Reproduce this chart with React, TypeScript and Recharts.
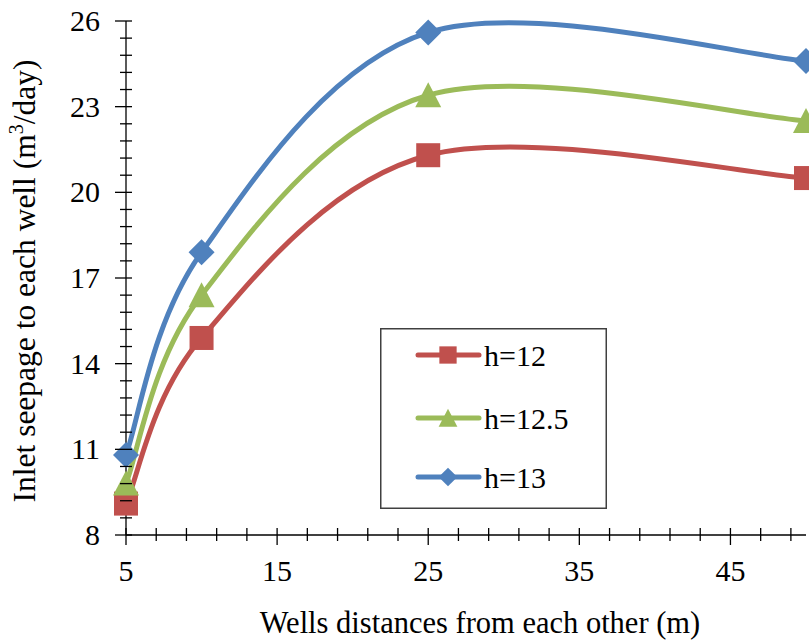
import React from "react";
import { LineChart, Line, XAxis, YAxis, Legend } from "recharts";

// well spacing (m)
const distances = [5, 10, 25, 50];
// inlet seepage per well (m3/day) for each head
const seepH12 = [9.1, 14.9, 21.3, 20.5];
const seepH125 = [9.8, 16.4, 23.4, 22.5];
const seepH13 = [10.8, 17.9, 25.6, 24.6];

const xTicks = [5, 7, 9, 11, 13, 15, 17, 19, 21, 23, 25, 27, 29, 31, 33, 35, 37, 39, 41, 43, 45, 47, 49];
const xLabels = [5, 15, 25, 35, 45];
const yTicks = [
  8, 8.6, 9.2, 9.8, 10.4, 11, 11.6, 12.2, 12.8, 13.4, 14, 14.6, 15.2, 15.8, 16.4, 17, 17.6, 18.2, 18.8, 19.4,
  20, 20.6, 21.2, 21.8, 22.4, 23, 23.6, 24.2, 24.8, 25.4, 26,
];
const yLabels = [8, 11, 14, 17, 20, 23, 26];

const series = [
  { key: "h12", name: "h=12", color: "#C0504D", shape: "square" },
  { key: "h125", name: "h=12.5", color: "#9BBB59", shape: "triangle" },
  { key: "h13", name: "h=13", color: "#4F81BD", shape: "diamond" },
];

const data = distances.map((d, i) => ({ x: d, h12: seepH12[i], h125: seepH125[i], h13: seepH13[i] }));

const FONT = "'Liberation Serif', 'Times New Roman', serif";

// excel-like smoothed line (cardinal bezier through every point)
const excelSmooth = (context: any) => {
  let pts: number[][] = [];
  return {
    areaStart() {},
    areaEnd() {},
    lineStart() {
      pts = [];
    },
    point(x: number, y: number) {
      pts.push([+x, +y]);
    },
    lineEnd() {
      const n = pts.length;
      if (!n) return;
      context.moveTo(pts[0][0], pts[0][1]);
      for (let i = 0; i < n - 1; i++) {
        const p0 = pts[Math.max(i - 1, 0)];
        const p1 = pts[i];
        const p2 = pts[i + 1];
        const p3 = pts[Math.min(i + 2, n - 1)];
        context.bezierCurveTo(
          p1[0] + (p2[0] - p0[0]) / 6,
          p1[1] + (p2[1] - p0[1]) / 6,
          p2[0] - (p3[0] - p1[0]) / 6,
          p2[1] - (p3[1] - p1[1]) / 6,
          p2[0],
          p2[1]
        );
      }
    },
  };
};

function Marker({ shape, cx, cy, color, s = 1 }: any) {
  if (shape === "square") {
    const h = 12 * s;
    return <rect x={cx - h} y={cy - h} width={2 * h} height={2 * h} fill={color} />;
  }
  if (shape === "triangle") {
    const pts = `${cx},${cy - 13 * s} ${cx - 13 * s},${cy + 12 * s} ${cx + 13 * s},${cy + 12 * s}`;
    return <polygon points={pts} fill={color} />;
  }
  const d = 13 * s;
  return <polygon points={`${cx},${cy - d} ${cx + d},${cy} ${cx},${cy + d} ${cx - d},${cy}`} fill={color} />;
}

const XTick = (props: any) => {
  const { x, y, payload } = props;
  const major = xLabels.includes(payload.value);
  return (
    <g>
      <line x1={x} x2={x} y1={y - 7} y2={y + (major ? 10 : 6)} stroke="#000" strokeWidth={1.3} />
      {major && (
        <text x={x} y={y + 46} textAnchor="middle" fontFamily={FONT} fontSize={30} fill="#000">
          {payload.value}
        </text>
      )}
    </g>
  );
};

const YTick = (props: any) => {
  const { x, y, payload } = props;
  const major = yLabels.some((v) => Math.abs(v - payload.value) < 1e-6);
  return (
    <g>
      <line x1={x - (major ? 11 : 6)} x2={x + 6} y1={y} y2={y} stroke="#000" strokeWidth={1.3} />
      {major && (
        <text x={x - 26} y={y + 10} textAnchor="end" fontFamily={FONT} fontSize={30} fill="#000">
          {Math.round(payload.value)}
        </text>
      )}
    </g>
  );
};

const LegendBox = () => (
  <svg width={227} height={181} style={{ display: "block" }}>
    <rect x={0.75} y={0.75} width={225.5} height={179.5} fill="#fff" stroke="#404040" strokeWidth={1.5} />
    {series.map((s, i) => {
      const ly = [27, 90, 149][i];
      return (
        <g key={s.key}>
          <line x1={38} x2={99} y1={ly} y2={ly} stroke={s.color} strokeWidth={5} strokeLinecap="round" />
          <Marker shape={s.shape} cx={68} cy={ly} color={s.color} s={0.72} />
          <text x={104} y={ly + 11} fontFamily={FONT} fontSize={30} fill="#000">
            {s.name}
          </text>
        </g>
      );
    })}
  </svg>
);

export default function App() {
  return (
    <div style={{ position: "absolute", left: 0, top: 0, width: 809, height: 641, background: "#fff" }}>
      <LineChart width={809} height={641} data={data} margin={{ top: 21, right: 3, bottom: 0, left: 0 }}>
        <XAxis
          dataKey="x"
          type="number"
          domain={[5, 50]}
          ticks={xTicks}
          interval={0}
          height={106}
          tickSize={0}
          tickMargin={0}
          tickLine={false}
          axisLine={{ stroke: "#000", strokeWidth: 1.3 }}
          tick={<XTick />}
          label={{
            content: () => (
              <text x={480} y={633} textAnchor="middle" fontFamily={FONT} fontSize={30.5} fill="#000">
                Wells distances from each other (m)
              </text>
            ),
          }}
        />
        <YAxis
          type="number"
          domain={[8, 26]}
          ticks={yTicks}
          interval={0}
          width={126}
          tickSize={0}
          tickMargin={0}
          tickLine={false}
          axisLine={{ stroke: "#000", strokeWidth: 1.3 }}
          tick={<YTick />}
          label={{
            content: () => (
              <text
                x={35}
                y={281}
                transform="rotate(-90 35 281)"
                textAnchor="middle"
                fontFamily={FONT}
                fontSize={31.5}
                fill="#000"
              >
                Inlet seepage to each well (m
                <tspan fontSize={20} dy={-12}>3</tspan>
                <tspan dy={12}>/day)</tspan>
              </text>
            ),
          }}
        />
        <Legend
          layout="vertical"
          align="center"
          verticalAlign="middle"
          wrapperStyle={{ left: 380, top: 328, width: 227, height: 181 }}
          content={() => <LegendBox />}
        />
        {series.map((s) => (
          <Line
            key={s.key}
            dataKey={s.key}
            name={s.name}
            type={excelSmooth as any}
            stroke={s.color}
            strokeWidth={5}
            isAnimationActive={false}
            dot={(p: any) => <Marker key={`${s.key}-${p.index}`} shape={s.shape} cx={p.cx} cy={p.cy} color={s.color} />}
            activeDot={false}
          />
        ))}
      </LineChart>
    </div>
  );
}
